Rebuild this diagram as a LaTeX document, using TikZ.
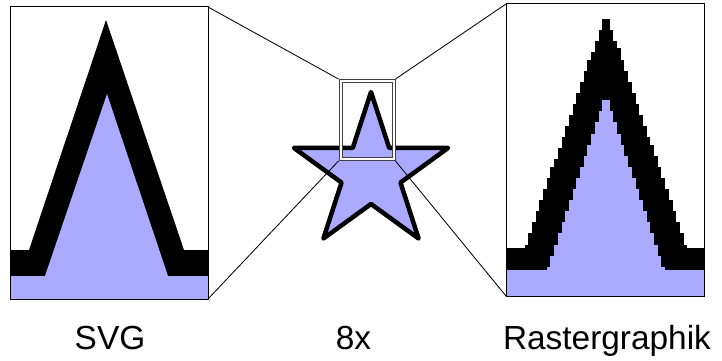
\documentclass[tikz,border=0pt]{standalone}
\usepackage{fontspec}
\setmainfont{Liberation Sans}
\usepackage{xcolor}
\definecolor{starblue}{RGB}{170,170,255}

\begin{document}
\begin{tikzpicture}[
    x=0.03cm, y=-0.03cm,
    panel/.style={rectangle, draw=black, line width=0.03cm, inner sep=0pt, outer sep=0pt, minimum height=8.76cm},
    zoombox/.style={rectangle, draw=black!75, line width=0.03cm, double=white, double distance=0.06cm, inner sep=0pt, outer sep=0.06cm, minimum width=1.59cm, minimum height=2.34cm},
    starline/.style={draw=black, fill=starblue, line width=0.135cm, line join=round},
    link/.style={draw=black, line width=0.025cm},
    caption/.style={font=\fontsize{28.5pt}{30pt}\selectfont, anchor=base, inner sep=0pt}
]
\useasboundingbox (0,0) rectangle (722,360);

% smooth outline (left)
\begin{scope}
  \clip (11,7) rectangle (208,299);
  \fill[black] (0,250) -- (29,250) -- (106,20) -- (184,250) -- (220,250) -- (220,310) -- (0,310) -- cycle;
  \fill[starblue] (0,276) -- (45,276) -- (107,94) -- (168,276) -- (220,276) -- (220,310) -- (0,310) -- cycle;
\end{scope}
\node[panel, minimum width=5.91cm] (svgpanel) at (109.5,153) {};

% pixelated outline (right)
\def\cell{3.7}
\begin{scope}
  \clip (506,4) rectangle (704,296);
  \foreach \j in {0,...,79}{
    \pgfmathsetmacro{\ya}{4+\j*\cell}
    \pgfmathsetmacro{\yb}{\ya+\cell+0.3}
    \pgfmathsetmacro{\yc}{\ya+\cell/2}
    \pgfmathsetmacro{\wo}{(\yc<18)?0:((\yc<247)?(\yc-18)*0.345:200)}
    \pgfmathsetmacro{\wi}{(\yc<96)?0:((\yc<272)?(\yc-96)*0.335:200)}
    \pgfmathsetmacro{\xol}{506+\cell*floor((100-\wo)/\cell)}
    \pgfmathsetmacro{\xor}{506+\cell*ceil((100+\wo)/\cell)}
    \pgfmathsetmacro{\xil}{506+\cell*round((100-\wi)/\cell)}
    \pgfmathsetmacro{\xir}{506+\cell*round((100+\wi)/\cell)}
    \ifdim \wo pt>0pt
      \fill[black] (\xol,\ya) rectangle (\xor,\yb);
    \fi
    \ifdim \wi pt>0pt
      \fill[starblue] (\xil,\ya) rectangle (\xir,\yb);
    \fi
  }
\end{scope}
\node[panel, minimum width=5.94cm] (rastpanel) at (605,150) {};

% star in the middle
\begin{scope}[shift={(371,173)}]
  \draw[starline] (-90:81) \foreach \k in {0,...,4}{ -- ({-54+72*\k}:31) -- ({-18+72*\k}:81)} -- cycle;
\end{scope}
\node[zoombox] (zoomframe) at (367,120) {};

\draw[link] (svgpanel.north east) -- (zoomframe.north west);
\draw[link] (svgpanel.south east) -- (zoomframe.south west);
\draw[link] (rastpanel.north west) -- (zoomframe.north east);
\draw[link] (rastpanel.south west) -- (zoomframe.south east);

\node[caption] (svglabel) at (110,349) {SVG};
\node[caption] (factorlabel) at (353.5,349) {8x};
\node[caption] (rastlabel) at (607,349) {Rastergraphik};
\end{tikzpicture}
\end{document}
